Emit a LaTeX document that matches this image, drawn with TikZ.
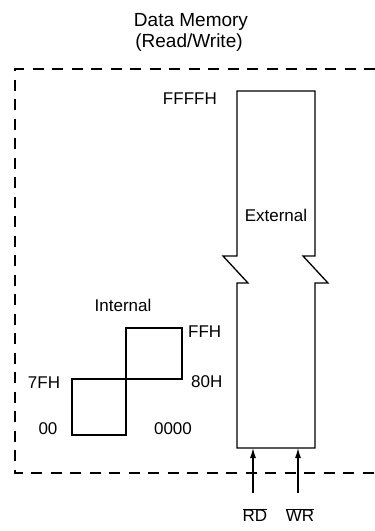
\documentclass[tikz,border=0pt]{standalone}
\usepackage{fontspec}
\setmainfont{Liberation Sans}
\usetikzlibrary{arrows.meta}
\begin{document}
\begin{tikzpicture}[x=1pt,y=-1pt,
  lbl/.style={inner sep=0pt, font=\fontsize{17}{20}\selectfont},
  ttl/.style={inner sep=0pt, font=\fontsize{19}{22}\selectfont},
  blk/.style={line width=1.3pt, line join=miter},
  bnd/.style={line width=2.6pt, dash pattern=on 11pt off 8.5pt},
  sig/.style={line width=1.1pt, -{Latex[length=10pt,width=6pt]}}]
\useasboundingbox (0,0) rectangle (375,531);
% title
\node[ttl] (t1) at (191,22) {Data Memory};
\node[ttl] (t2) at (189,43) {(Read/Write)};
% dashed boundary
\draw[bnd] (375,69) -- (15,69) -- (15,473) -- (375,473);
% external memory
\draw[blk] (223,256) -- (237,256) -- (237,91) -- (315,91) -- (315,256) -- (303,256)
  -- (328,283) -- (315,283) -- (315,448) -- (237,448) -- (237,283) -- (248,283) -- cycle;
\node[lbl] (ext) at (276,215) {External};
\node[lbl, anchor=east] (ffffh) at (217,99) {FFFFH};
% internal memory
\draw[blk] (72,379) rectangle (126,435);
\draw[blk] (126,328) rectangle (182,379);
\node[lbl] (int) at (123,305) {Internal};
\node[lbl, anchor=west] (ffh) at (188,332) {FFH};
\node[lbl, anchor=west] (h80) at (191,382) {80H};
\node[lbl] (h7f) at (44,383) {7FH};
\node[lbl] (h00) at (48,429) {00};
\node[lbl] (h0000) at (173,429) {0000};
% control signals
\coordinate (rdS) at (253,493);
\coordinate (rdE) at (253,448);
\coordinate (wrS) at (298,493);
\coordinate (wrE) at (298,448);
\draw[sig] (rdS) -- (rdE);
\draw[sig] (wrS) -- (wrE);
\node[lbl] (rd) at (255,515) {$\overline{\hbox{RD}}$};
\node[lbl] (wr) at (300,515) {$\overline{\hbox{WR}}$};
\end{tikzpicture}
\end{document}
